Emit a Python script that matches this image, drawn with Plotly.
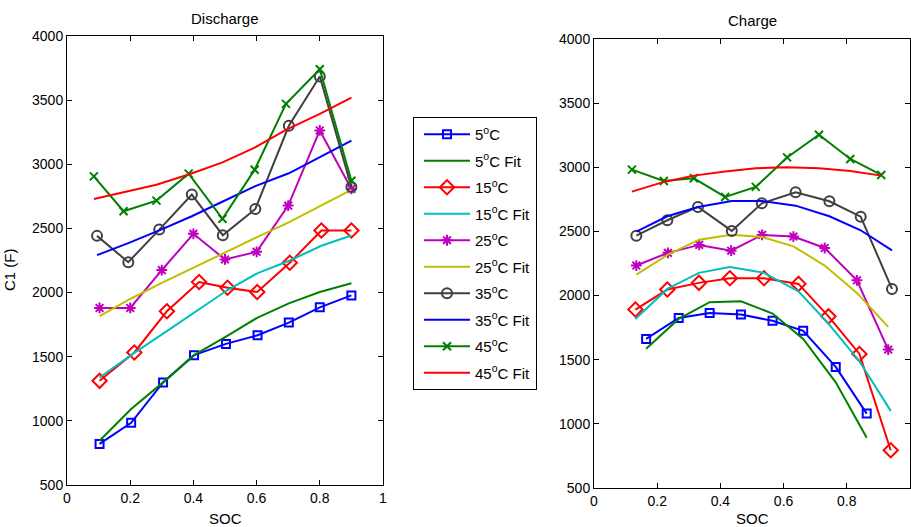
import plotly.graph_objects as go

# ---- Discharge panel data ----
soc_d_5 = [0.103, 0.203, 0.304, 0.402, 0.503, 0.603, 0.702, 0.800, 0.900]
c1_d_5 = [820, 985, 1299, 1512, 1600, 1667, 1766, 1885, 1978]
fit_d_5 = [845, 1092, 1300, 1512, 1657, 1805, 1916, 2004, 2072]

soc_d_15 = [0.103, 0.213, 0.316, 0.418, 0.508, 0.602, 0.705, 0.805, 0.900]
c1_d_15 = [1312, 1533, 1854, 2082, 2038, 2004, 2232, 2484, 2484]
fit_d_15 = [1338, 1530, 1700, 1870, 2020, 2150, 2250, 2365, 2445]

soc_d_25 = [0.103, 0.200, 0.300, 0.400, 0.500, 0.600, 0.700, 0.800, 0.900]
c1_d_25 = [1880, 1880, 2175, 2458, 2258, 2318, 2678, 3264, 2808]
fit_d_25 = [1817, 1950, 2075, 2195, 2315, 2430, 2545, 2670, 2800]

soc_d_35 = [0.095, 0.194, 0.292, 0.395, 0.493, 0.596, 0.702, 0.800, 0.900]
c1_d_35 = [2442, 2237, 2491, 2764, 2447, 2652, 3300, 3684, 2823]
fit_d_35 = [2292, 2385, 2485, 2595, 2710, 2830, 2930, 3055, 3184]

soc_d_45 = [0.085, 0.179, 0.283, 0.385, 0.492, 0.594, 0.693, 0.800, 0.900]
c1_d_45 = [2906, 2634, 2717, 2927, 2575, 2958, 3471, 3741, 2872]
fit_d_45 = [2730, 2785, 2841, 2920, 3015, 3130, 3269, 3393, 3520]

# ---- Charge panel data ----
soc_c_5 = [0.165, 0.268, 0.366, 0.465, 0.565, 0.662, 0.765, 0.863]
c1_c_5 = [1662, 1826, 1865, 1852, 1803, 1725, 1444, 1080]
fit_c_5 = [1585, 1818, 1948, 1956, 1860, 1662, 1324, 891]

soc_c_15 = [0.131, 0.232, 0.332, 0.430, 0.538, 0.647, 0.742, 0.840, 0.939]
c1_c_15 = [1891, 2047, 2099, 2135, 2135, 2091, 1838, 1545, 794]
fit_c_15 = [1818, 2052, 2177, 2223, 2177, 2033, 1782, 1488, 1101]

soc_c_25 = [0.134, 0.234, 0.333, 0.434, 0.532, 0.631, 0.730, 0.832, 0.931]
c1_c_25 = [2234, 2333, 2395, 2350, 2473, 2460, 2371, 2119, 1579]
fit_c_25 = [2163, 2319, 2436, 2475, 2457, 2384, 2234, 2021, 1756]

soc_c_35 = [0.134, 0.232, 0.329, 0.436, 0.531, 0.638, 0.745, 0.844, 0.943]
c1_c_35 = [2467, 2587, 2691, 2504, 2719, 2805, 2735, 2615, 2052]
fit_c_35 = [2498, 2618, 2691, 2738, 2738, 2701, 2618, 2509, 2353]

soc_c_45 = [0.120, 0.221, 0.316, 0.415, 0.512, 0.611, 0.712, 0.811, 0.909]
c1_c_45 = [2982, 2893, 2914, 2769, 2847, 3077, 3254, 3065, 2940]
fit_c_45 = [2810, 2886, 2935, 2968, 2992, 3000, 2992, 2971, 2935]

temps = ["5", "15", "25", "35", "45"]
x_ticks = [0, 0.2, 0.4, 0.6, 0.8, 1]
x_tick_text = ["0", "0.2", "0.4", "0.6", "0.8", "1"]
y_ticks = [500, 1000, 1500, 2000, 2500, 3000, 3500, 4000]

# styles per temperature: (data colour, marker symbol, marker size, fit colour)
styles = {
    "5": ("#0000FF", "square-open", 8, "#008000"),
    "15": ("#FF0000", "diamond-open", 11, "#00BFBF"),
    "25": ("#BF00BF", "asterisk-open", 9, "#BFBF00"),
    "35": ("#404040", "circle-open", 10, "#0000FF"),
    "45": ("#008000", "x-thin-open", 8, "#FF0000"),
}

discharge = {
    "5": (soc_d_5, c1_d_5, fit_d_5),
    "15": (soc_d_15, c1_d_15, fit_d_15),
    "25": (soc_d_25, c1_d_25, fit_d_25),
    "35": (soc_d_35, c1_d_35, fit_d_35),
    "45": (soc_d_45, c1_d_45, fit_d_45),
}
charge = {
    "5": (soc_c_5, c1_c_5, fit_c_5),
    "15": (soc_c_15, c1_c_15, fit_c_15),
    "25": (soc_c_25, c1_c_25, fit_c_25),
    "35": (soc_c_35, c1_c_35, fit_c_35),
    "45": (soc_c_45, c1_c_45, fit_c_45),
}

fig = go.Figure()

for panel, (xa, ya, show) in [(discharge, ("x", "y", True)), (charge, ("x2", "y2", False))]:
    for t in temps:
        col, sym, msz, fcol = styles[t]
        xs, ys, fs = panel[t]
        fig.add_trace(go.Scatter(
            x=xs, y=ys, mode="lines+markers", xaxis=xa, yaxis=ya,
            name=f"{t}<sup>o</sup>C", showlegend=show, legendgroup=f"{t}",
            line=dict(color=col, width=2),
            marker=dict(symbol=sym, size=msz, color=col, line=dict(color=col, width=2)),
        ))
        fig.add_trace(go.Scatter(
            x=xs, y=fs, mode="lines", xaxis=xa, yaxis=ya,
            name=f"{t}<sup>o</sup>C Fit", showlegend=show, legendgroup=f"{t}fit",
            line=dict(color=fcol, width=2),
        ))

W, H = 911, 527
FONT = "Liberation Sans, Arial, sans-serif"

axis_common = dict(
    showline=True, linecolor="black", linewidth=1, mirror="ticks",
    ticks="inside", ticklen=5, tickcolor="black", showgrid=False, zeroline=False,
    automargin=False,
    tickfont=dict(family=FONT, size=14, color="black"),
)


def label(text, x, y, angle=0):
    return dict(text=text, x=x / W, y=1 - y / H, xref="paper", yref="paper",
                xanchor="center", yanchor="middle", showarrow=False,
                textangle=angle, font=dict(family=FONT, size=15, color="black"))


fig.update_layout(
    width=W, height=H,
    margin=dict(l=0, r=0, t=0, b=0, autoexpand=False),
    paper_bgcolor="white", plot_bgcolor="white",
    font=dict(family=FONT, size=14, color="black"),
    xaxis=dict(domain=[67 / W, 383 / W], range=[0, 1], tickvals=x_ticks, ticktext=x_tick_text,
               anchor="y", **axis_common),
    yaxis=dict(domain=[1 - 485 / H, 1 - 36 / H], range=[500, 4000], tickvals=y_ticks,
               anchor="x", **axis_common),
    xaxis2=dict(domain=[594 / W, 910 / W], range=[0, 1], tickvals=x_ticks, ticktext=x_tick_text,
                anchor="y2", **axis_common),
    yaxis2=dict(domain=[1 - 488 / H, 1 - 39 / H], range=[500, 4000], tickvals=y_ticks,
                anchor="x2", **axis_common),
    legend=dict(
        x=413 / W, y=1 - 117 / H, xanchor="left", yanchor="top",
        bordercolor="black", borderwidth=1, bgcolor="white",
        font=dict(family=FONT, size=15, color="black"),
        traceorder="grouped", tracegroupgap=4,
        itemwidth=46, indentation=5,
    ),
    annotations=[
        label("Discharge", 225, 18),
        label("Charge", 752, 21),
        label("SOC", 225, 518),
        label("SOC", 752, 518),
        label("C1 (F)", 9, 270, angle=-90),
    ],
)

fig.write_html("out.html")
